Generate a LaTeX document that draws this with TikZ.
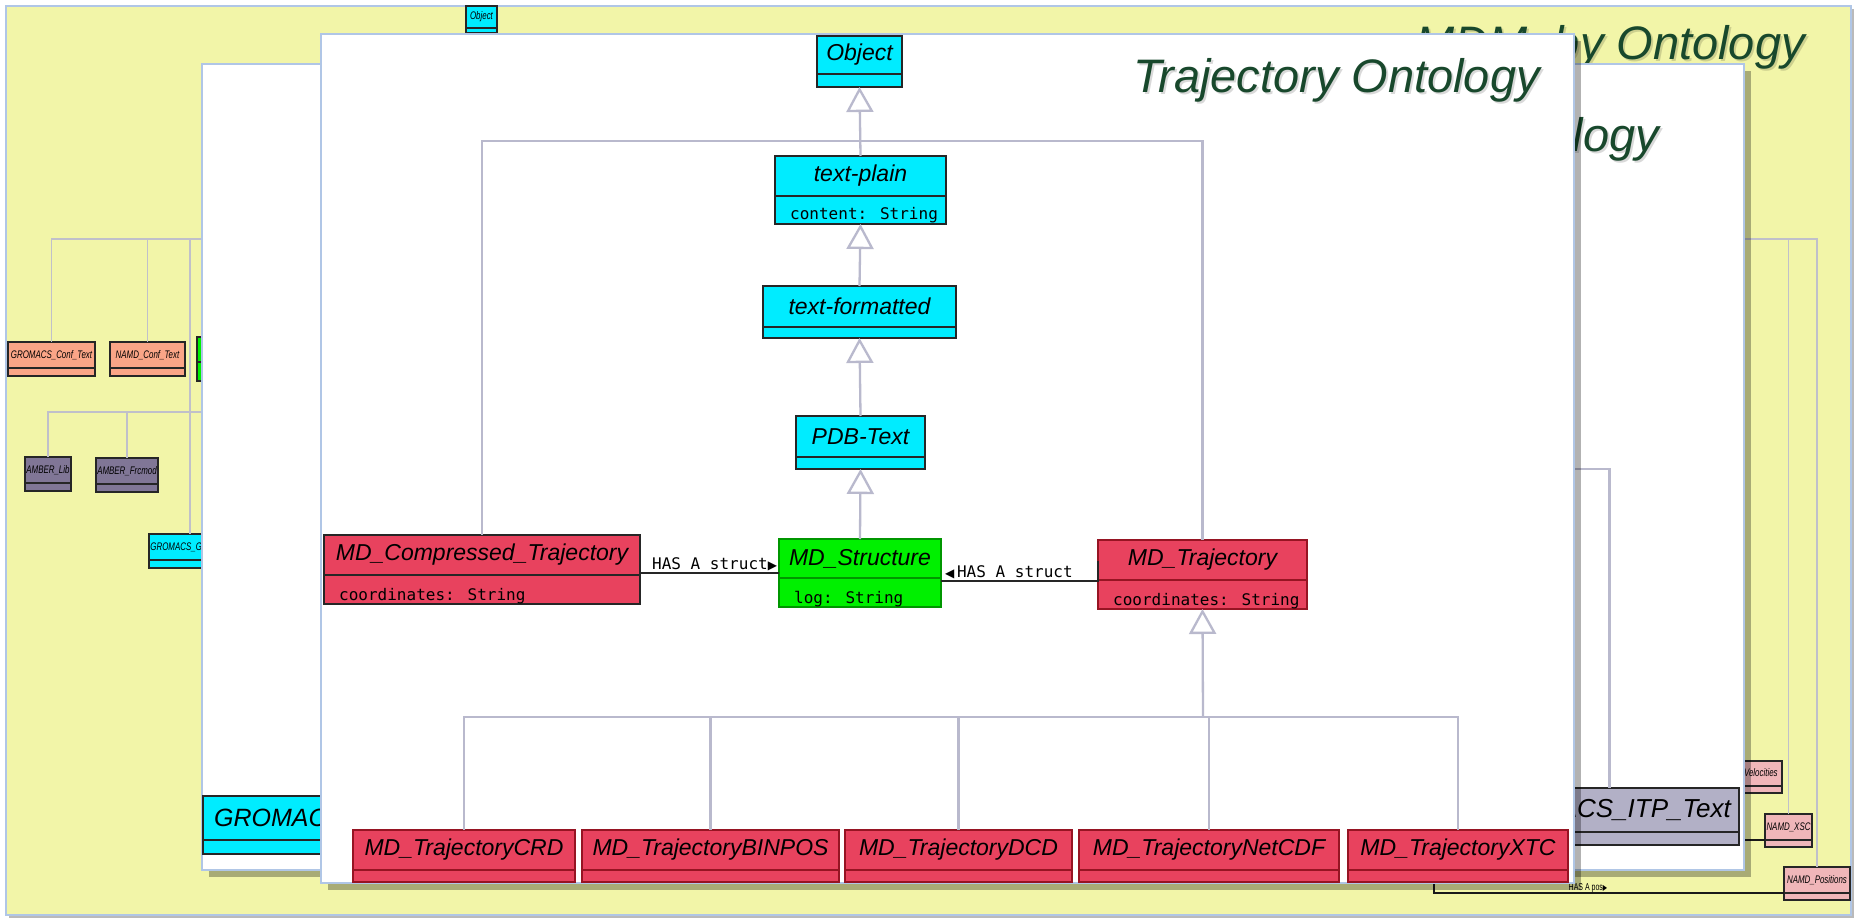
\documentclass[tikz,border=0pt]{standalone}
\usepackage{fontspec}
\usepackage{graphicx}
\setmainfont{Liberation Sans}
\newfontfamily\monof{DejaVu Sans Mono}
\newfontfamily\symf{DejaVu Sans}
\usetikzlibrary{arrows.meta,shadows}
\definecolor{slideyellow}{RGB}{242,245,168}
\definecolor{panelborder}{RGB}{176,198,230}
\definecolor{titlegreen}{RGB}{24,72,44}
\definecolor{umlcyan}{RGB}{0,236,255}
\definecolor{umlred}{RGB}{232,66,94}
\definecolor{umldarkred}{RGB}{150,20,35}
\definecolor{umlgreen}{RGB}{0,240,0}
\definecolor{umldkgreen}{RGB}{0,150,0}
\definecolor{genline}{RGB}{185,185,205}
\definecolor{ogenline}{RGB}{192,192,202}
\definecolor{salmonc}{RGB}{250,165,135}
\definecolor{pinkc}{RGB}{240,182,185}
\definecolor{amberc}{RGB}{128,118,150}
\definecolor{itpc}{RGB}{178,176,198}
\def\clsfont{\fontsize{23}{23}\selectfont\itshape}
\def\attrfont{\monof\fontsize{16}{16}\selectfont}
\def\clswrap#1{#1}
\newcommand\umlcls[9]{%
  \node[#7, minimum width={(#4)-(#2)}, minimum height={(#5)-(#3)}, anchor=north west] (#1) at (#2,#3) {};
  \coordinate (#1d) at (#2,#6);
  \draw[#7, fill=none] (#1.west |- #1d) -- (#1.east |- #1d);
  \node[font=\clsfont, inner sep=0] (#1t) at ({(#2+#4)/2},{(#3+#6)/2}) {\clswrap{#8}};
  \node[font=\attrfont, anchor=base west, inner sep=0] (#1a) at ({#2+15},{#5-4}) {#9};
}
\begin{document}
\begin{tikzpicture}[x=1pt,y=-1pt,
  slide/.style={rectangle, draw=panelborder, line width=2, fill=slideyellow, inner sep=0, outer sep=0,
    drop shadow={shadow xshift=3pt, shadow yshift=-3pt, opacity=0.45, fill=black!60}},
  panel/.style={rectangle, draw=panelborder, line width=2, fill=white, inner sep=0, outer sep=0,
    drop shadow={shadow xshift=7pt, shadow yshift=-7pt, opacity=0.3, fill=black}},
  ubox/.style={rectangle, inner sep=0, outer sep=0},
  cyanbox/.style={ubox, draw=black!85, fill=umlcyan, line width=2},
  redblack/.style={ubox, draw=black!85, fill=umlred, line width=2.5},
  redbox/.style={ubox, draw=umldarkred, fill=umlred, line width=1.8},
  greenbox/.style={ubox, draw=umldkgreen, fill=umlgreen, line width=1.5},
  tcyan/.style={ubox, draw=black!85, fill=umlcyan, line width=1.3},
  tsalmon/.style={ubox, draw=black!85, fill=salmonc, line width=1.3},
  tgreen/.style={ubox, draw=black!85, fill=umlgreen, line width=1.3},
  tamber/.style={ubox, draw=black!85, fill=amberc, line width=1.3},
  tpink/.style={ubox, draw=black!85, fill=pinkc, line width=1.3},
  itpbox/.style={ubox, draw=black!85, fill=itpc, line width=2.5},
  gen/.style={draw=genline, line width=2.3},
  genarrow/.style={gen, -{Triangle[open, length=25pt, width=27pt, fill=white]}},
  ogen/.style={draw=ogenline, line width=1.5},
  assoc/.style={draw=black!85, line width=2},
  oassoc/.style={draw=black!90, line width=1.2},
  ttl/.style={font=\fontsize{47}{47}\selectfont\itshape, text=titlegreen, inner sep=0},
  ttlshadow/.style={font=\fontsize{47}{47}\selectfont\itshape, text=black, opacity=0.15, inner sep=0}]
\useasboundingbox (0,0) rectangle (1858,920);
\fill[white] (0,0) rectangle (1858,920);

% ---------- outer slide ----------
\node[slide, minimum width=1845, minimum height=909, anchor=north west] (slide) at (6,6) {};
\node[ttlshadow, anchor=base east] (mdmobys) at (1807,62) {MDMoby Ontology};
\node[ttl, anchor=base east] (mdmoby) at (1805,60) {MDMoby Ontology};

\def\clsfont{\fontsize{11}{11}\selectfont\itshape}
\def\attrfont{\fontsize{8}{8}\selectfont}
\def\clswrap#1{\scalebox{0.72}[1]{#1}}
\umlcls{oobj}{466}{6}{497}{33}{28}{tcyan}{Object}{}
\umlcls{gconf}{8}{342}{95}{376}{368}{tsalmon}{GROMACS\_Conf\_Text}{}
\umlcls{nconf}{110}{342}{185}{376}{368}{tsalmon}{NAMD\_Conf\_Text}{}
\umlcls{ogreen}{197}{337}{260}{381}{362}{tgreen}{}{}
\umlcls{alib}{25}{457}{71}{491}{483}{tamber}{AMBER\_Lib}{}
\umlcls{afrc}{96}{458}{158}{492}{484}{tamber}{AMBER\_Frcmod}{}
\umlcls{ggro}{149}{534}{206}{568}{560}{tcyan}{GROMACS\_Gr}{}
\umlcls{vel}{1712}{761}{1782}{793}{786}{tpink}{NAMD\_Velocities}{}
\umlcls{xsc}{1765}{814}{1812}{847}{840}{tpink}{NAMD\_XSC}{}
\umlcls{pos}{1784}{867}{1850}{900}{893}{tpink}{NAMD\_Positions}{}

\coordinate (busL1) at (240,239);
\coordinate (busL2) at (240,412);
\coordinate (ggroin) at (190,534);
\draw[ogen] (gconf.north) |- (busL1);
\draw[ogen] (nconf.north) |- (busL1);
\draw[ogen] (ggroin) |- (busL1);
\draw[ogen] (alib.north) |- (busL2);
\draw[ogen] (afrc.north) |- (busL2);
\coordinate (busR) at (1700,239);
\draw[ogen] (xsc.north) |- (busR);
\draw[ogen] (pos.north) |- (busR);
\coordinate (xscin) at (1700,840);
\draw[oassoc] (xscin) -- (xsc.west |- xscin);
\coordinate (posstart) at (1434,860);
\coordinate (posy) at (0,893);
\draw[oassoc] (posstart) |- (pos.west |- posy)
  node[pos=0.72, anchor=base, yshift=3pt, font=\fontsize{10}{10}\selectfont, text=black, inner sep=0] {\scalebox{0.7}[1]{HAS A pos{\symf\fontsize{8}{8}\selectfont ▶}}};

% ---------- middle panel ----------
\node[panel, minimum width=1542, minimum height=806, anchor=north west] (mid) at (202,64) {};
\node[ttlshadow, anchor=base east] (midts) at (1661,154) {Ontology};
\node[ttl, anchor=base east] (midt) at (1659,152) {Ontology};
\def\clsfont{\fontsize{23}{23}\selectfont\itshape}
\def\clswrap#1{#1}
\umlcls{gro}{203}{796}{420}{854}{840}{tcyan}{}{}
\node[font=\fontsize{25}{25}\selectfont\itshape, anchor=west, inner sep=0] (grot) at (214,818) {GROMACS};
\coordinate (mline) at (1500,469);
\umlcls{itp}{1480}{788}{1739}{845}{832}{itpbox}{}{}
\draw[gen] (mline) -| (itp.north);
\node[font=\fontsize{26}{26}\selectfont\itshape, anchor=east, inner sep=0] (itpt) at (1731,810) {GROMACS\_ITP\_Text};

% ---------- front panel ----------
\node[panel, minimum width=1253, minimum height=849, anchor=north west] (front) at (321,34) {};
\node[ttlshadow, anchor=base east] (trajts) at (1542,95) {Trajectory Ontology};
\node[ttl, anchor=base east] (trajt) at (1540,93) {Trajectory Ontology};

\def\attrfont{\monof\fontsize{16}{16}\selectfont}
\umlcls{object}{817}{36}{902}{87}{74}{cyanbox}{Object}{}
\umlcls{textplain}{775}{156}{946}{224}{196}{cyanbox}{text-plain}{content: String}
\umlcls{textfmt}{763}{286}{956}{338}{327}{cyanbox}{text-formatted}{}
\umlcls{pdb}{796}{416}{925}{469}{457}{cyanbox}{PDB-Text}{}
\umlcls{struct}{779}{539}{941}{607}{578}{greenbox}{MD\_Structure}{log: String}
\umlcls{comp}{324}{535}{640}{604}{575}{redblack}{MD\_Compressed\_Trajectory}{coordinates: String}
\umlcls{traj}{1098}{540}{1307}{609}{580}{redbox}{MD\_Trajectory}{coordinates: String}
\umlcls{crd}{353}{830}{575}{882}{870}{redbox}{MD\_TrajectoryCRD}{}
\umlcls{binpos}{582}{830}{839}{882}{870}{redbox}{MD\_TrajectoryBINPOS}{}
\umlcls{dcd}{845}{830}{1072}{882}{870}{redbox}{MD\_TrajectoryDCD}{}
\umlcls{netcdf}{1079}{830}{1339}{882}{870}{redbox}{MD\_TrajectoryNetCDF}{}
\umlcls{xtc}{1348}{830}{1568}{882}{870}{redbox}{MD\_TrajectoryXTC}{}

% generalisations
\draw[genarrow] (textplain.north) -- (object.south);
\draw[genarrow] (textfmt.north) -- (textplain.south);
\draw[genarrow] (pdb.north) -- (textfmt.south);
\draw[genarrow] (struct.north) -- (pdb.south);
\coordinate (topbus) at (860,141);
\draw[gen] (comp.north) |- (topbus) -| (traj.north);
\coordinate (botbus) at (1203,717);
\draw[genarrow] (botbus) -- (traj.south);
\foreach \c in {crd,binpos,dcd,netcdf,xtc} \draw[gen] (\c.north) |- (botbus);

% associations
\coordinate (a1) at (0,573);
\coordinate (a2) at (0,581);
\coordinate (a2t) at (0,561);
\draw[assoc] (comp.east |- a1) -- (struct.west |- a1)
  node[pos=1, anchor=base east, yshift=4pt, xshift=-1pt, font=\attrfont, inner sep=0] {HAS A struct{\symf\fontsize{12}{12}\selectfont ▶}};
\draw[assoc] (struct.east |- a2) -- (traj.west |- a2) -- (traj.west |- a2t);
\node[font=\attrfont, anchor=base west, inner sep=0] (a2l) at (945,577) {{\symf\fontsize{12}{12}\selectfont ◀}\,HAS A struct};
\end{tikzpicture}
\end{document}
